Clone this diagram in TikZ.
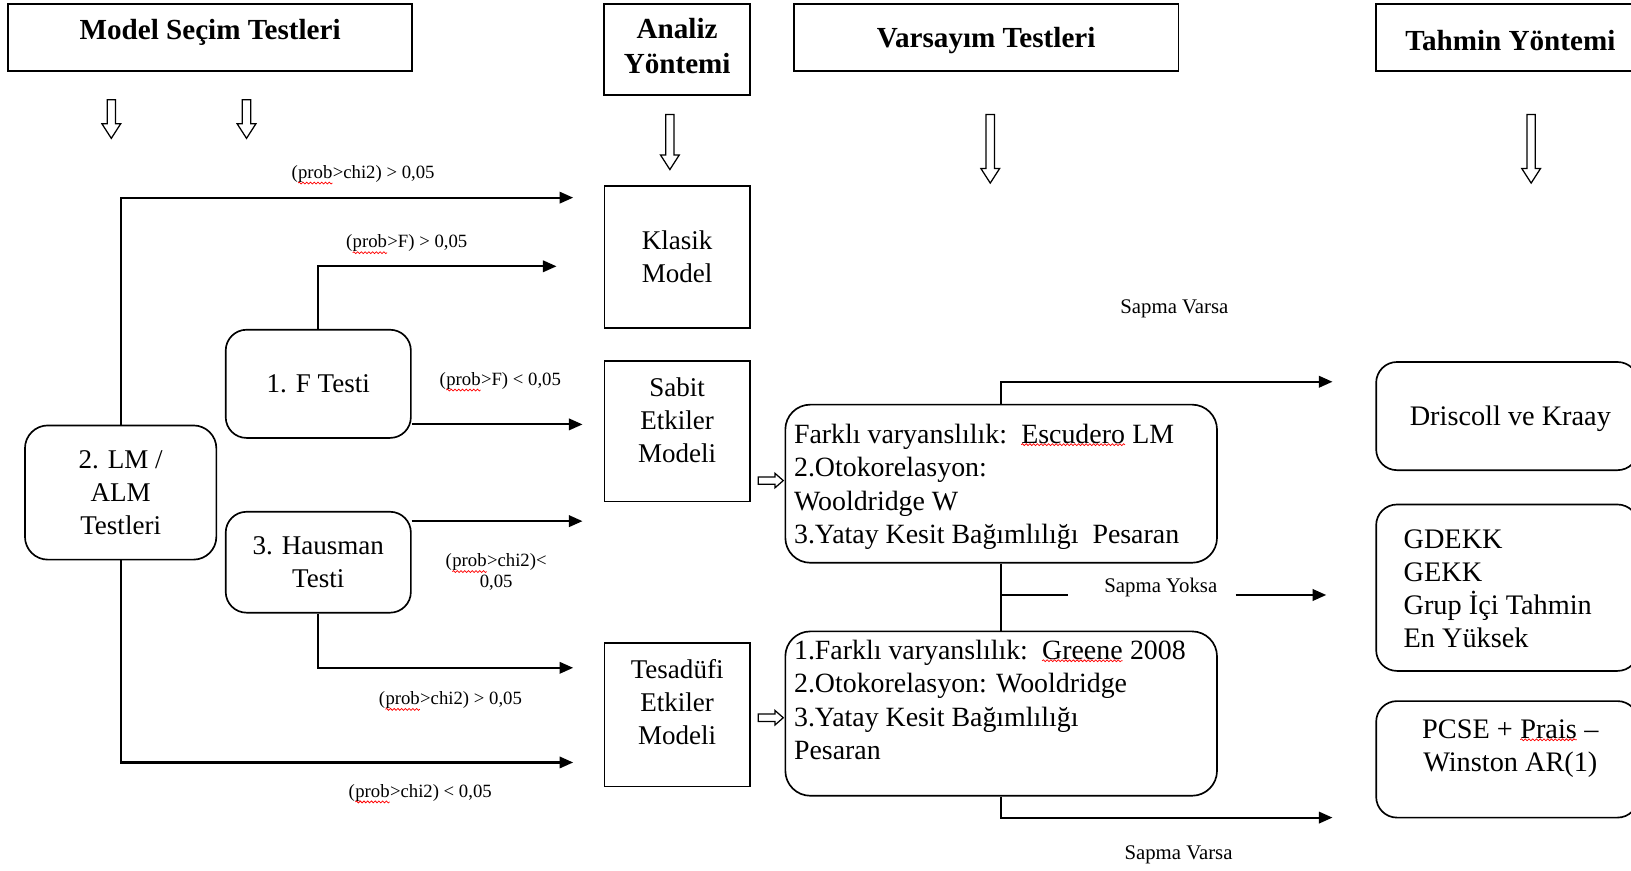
\documentclass[tikz,border=0pt]{standalone}
\usepackage{fontspec}
\setmainfont{Liberation Serif}
\usetikzlibrary{arrows.meta,decorations.pathmorphing}

\newcommand\bodyfont{\fontsize{13}{16}\selectfont}
\newcommand\vfont{\fontsize{13.4}{16}\selectfont}
\newcommand\rfont{\fontsize{13.6}{16}\selectfont}
\newcommand\headfont{\fontsize{14}{17}\selectfont\bfseries}
\newcommand\lblfont{\fontsize{9}{10}\selectfont}
\newcommand\sapfont{\fontsize{10}{11}\selectfont}
% red spell-check wave under a word
\newcommand\sq[1]{\tikz[baseline=(w.base),x=1pt,y=1pt]{%
  \node[inner sep=0pt,outer sep=0pt] (w) {#1};
  \draw[red,line width=0.35pt,decorate,decoration={snake,amplitude=0.45pt,segment length=1.8pt}]
    ([yshift=-0.4pt]w.south west) -- ([yshift=-0.4pt]w.south east);}}

% hollow block arrows
\newcommand\hollowdown[3]{% x, y top, y tip
  \draw[hollow] (#1-4,#2) -- (#1+4,#2) -- (#1+4,#3-14) -- (#1+9,#3-14)
    -- (#1,#3) -- (#1-9,#3-14) -- (#1-4,#3-14) -- cycle;}
\newcommand\hollowright[3]{% x left, x tip, y
  \draw[hollow] (#1,#3-3.5) -- (#2-8,#3-3.5) -- (#2-8,#3-7) -- (#2,#3)
    -- (#2-8,#3+7) -- (#2-8,#3+3.5) -- (#1,#3+3.5) -- cycle;}

\begin{document}
\begin{tikzpicture}[x=0.5pt,y=-0.5pt,
  box/.style={draw, line width=0.8pt, inner sep=0pt, align=center, font=\bodyfont},
  rbox/.style={box, rounded corners=10pt},
  head/.style={draw, line width=0.9pt, inner sep=0pt, align=center, font=\headfont},
  headtxt/.style={inner sep=0pt, align=center, font=\headfont},
  txt/.style={inner sep=0pt, font=\bodyfont},
  conn/.style={line width=1pt, -{Triangle[length=6.5pt,width=5.5pt]}},
  plain/.style={line width=1pt},
  lbl/.style={inner sep=0pt, font=\lblfont, align=center},
  sap/.style={inner sep=0pt, font=\sapfont},
  hollow/.style={draw, line width=0.6pt, fill=white},
]
\fill[white] (0,0) rectangle (1568,837);
\useasboundingbox (0,0) rectangle (1568,837);

% column headings
\node[head, minimum width=194pt, minimum height=32pt] (h1) at (202,36) {};
\node[headtxt] (h1t) at (202,31) {Model Seçim Testleri};
\node[head, minimum width=70pt, minimum height=43.5pt] (h2) at (651,47.5) {};
\node[headtxt] (h2t) at (651,44) {Analiz\\Yöntemi};
\node[head, minimum width=185pt, minimum height=32pt] (h3) at (948,36) {};
\node[headtxt] (h3t) at (948,39) {Varsayım Testleri};
\node[head, minimum width=126pt, minimum height=32pt] (h4) at (1449,36) {};
\node[headtxt] (h4t) at (1452,39) {Tahmin Yöntemi};

% hollow arrows under the headings
\hollowdown{107}{96}{133}
\hollowdown{237}{96}{133}
\hollowdown{644}{110}{163}
\hollowdown{952}{110}{176}
\hollowdown{1472}{110}{176}

% tests
\node[rbox, minimum width=92pt, minimum height=64.5pt, rounded corners=11pt] (lm) at (116,473.5) {2. LM /\\ALM\\Testleri};
\node[rbox, minimum width=89pt, minimum height=52pt] (ft) at (306,369) {1. F Testi};
\node[rbox, minimum width=89pt, minimum height=48.5pt] (ha) at (306,540.5) {3. Hausman\\Testi};

% models
\node[box, minimum width=70pt, minimum height=68pt] (kl) at (651,247) {Klasik\\Model};
\node[box, minimum width=70pt, minimum height=67.5pt] (sb) at (651,414.5) {};
\node[txt, align=center] (sbt) at (651,404) {Sabit\\Etkiler\\Modeli};
\node[box, minimum width=70pt, minimum height=69pt] (te) at (651,687) {};
\node[txt, align=center] (tet) at (651,675) {Tesadüfi\\Etkiler\\Modeli};

% assumption tests
\node[rbox, minimum width=207.5pt, minimum height=76pt, rounded corners=12pt] (v1) at (962.5,465) {};
\node[txt, font=\vfont, align=left, anchor=west] (v1t) at (763,468) {Farklı varyanslılık:\ \ \sq{Escudero} LM\\2.Otokorelasyon:\\Wooldridge W\\3.Yatay Kesit Bağımlılığı\ \ Pesaran};
\node[rbox, minimum width=207.5pt, minimum height=79pt, rounded corners=12pt] (v2) at (962.5,686) {};
\node[txt, font=\vfont, align=left, anchor=west] (v2t) at (763,673) {1.Farklı varyanslılık:\ \ \sq{Greene} 2008\\2.Otokorelasyon: Wooldridge\\3.Yatay Kesit Bağımlılığı\\Pesaran};

% estimation methods
\node[rbox, minimum width=126pt, minimum height=52pt] (dk) at (1449,400) {};
\node[txt, font=\rfont] (dkt) at (1452,403) {Driscoll ve Kraay};
\node[rbox, minimum width=126pt, minimum height=80pt] (gd) at (1449,565) {};
\node[txt, font=\rfont, align=left, anchor=west] (gdt) at (1349,566) {GDEKK\\GEKK\\Grup İçi Tahmin\\En Yüksek};
\node[rbox, minimum width=126pt, minimum height=56pt] (pc) at (1449,730) {};
\node[txt, font=\rfont, align=center] (pct) at (1452,720) {PCSE + \sq{Prais} –\\Winston AR(1)};

% arrow ends
\coordinate (e1) at (551,190);
\coordinate (e2) at (535,256);
\coordinate (e3) at (560,408);
\coordinate (e4) at (560,501);
\coordinate (e5) at (551,642);
\coordinate (e6) at (551,733);
\coordinate (e7) at (1281,367);
\coordinate (e8) at (1275,572);
\coordinate (e9) at (1281,786);
\coordinate (j1) at (962,572);
\coordinate (j2) at (1027,572);
\coordinate (j3) at (1188,572);

% test outcomes
\draw[conn] (lm.north) |- (e1);
\draw[conn] (ft.north) |- (e2);
\draw[conn] (ft.east |- e3) -- (e3);
\draw[conn] (ha.east |- e4) -- (e4);
\draw[conn] (ha.south) |- (e5);
\draw[conn] (lm.south) |- (e6);

\node[lbl] (l1) at (349,168) {(\sq{prob}>chi2) > 0,05};
\node[lbl] (l2) at (391,235) {(\sq{prob}>F) > 0,05};
\node[lbl] (l3) at (481,367) {(\sq{prob}>F) < 0,05};
\node[lbl] (l4) at (477,550) {(\sq{prob}>chi2)<\\0,05};
\node[lbl] (l5) at (433,674) {(\sq{prob}>chi2) > 0,05};
\node[lbl] (l6) at (404,763) {(\sq{prob}>chi2) < 0,05};

% models into assumption tests
\hollowright{729}{753}{462}
\hollowright{729}{753}{690}

% assumption outcomes
\draw[conn] (v1.north) |- (e7);
\draw[plain] (v1.south) -- (v2.north);
\draw[plain] (j1) -- (j2);
\draw[conn] (j3) -- (e8);
\draw[conn] (v2.south) |- (e9);

\node[sap] (s1) at (1129,297) {Sapma Varsa};
\node[sap] (s2) at (1116,565) {Sapma Yoksa};
\node[sap] (s3) at (1133,822) {Sapma Varsa};
\end{tikzpicture}
\end{document}
